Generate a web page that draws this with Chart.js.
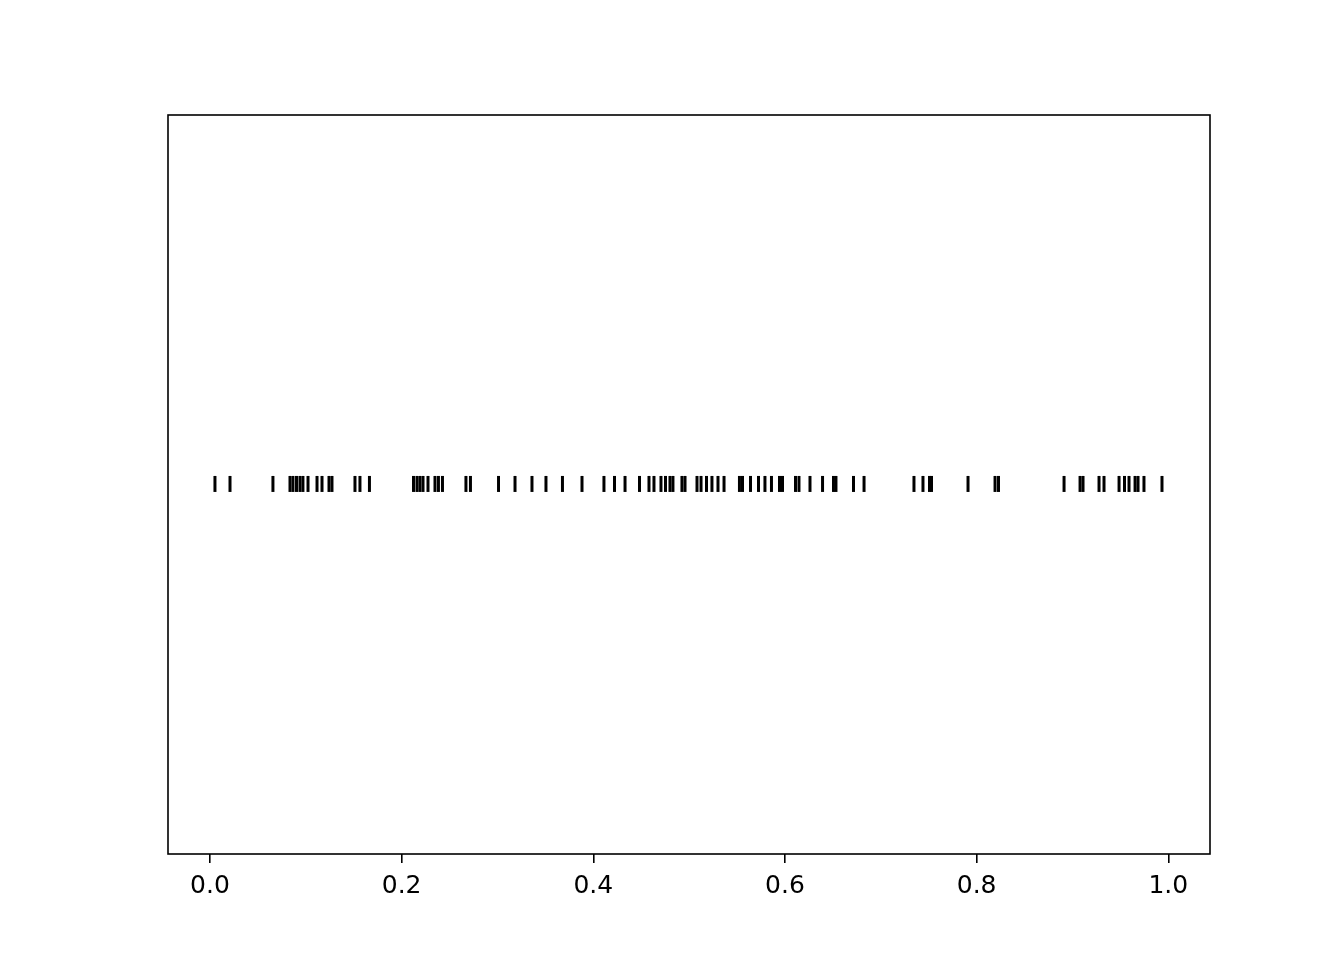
<!DOCTYPE html>
<html>
<head>
<meta charset="utf-8">
<script src="https://cdn.jsdelivr.net/npm/chart.js@4/dist/chart.umd.min.js"></script>
<style>
  body { margin: 0; background: #ffffff; }
  #wrap { width: 1344px; height: 960px; }
</style>
</head>
<body>
<div id="wrap"><canvas id="myChart" width="1344" height="960"></canvas></div>
<script>
/* event positions */
var eventPositions = [
  0.0052, 0.0209, 0.0657, 0.0835, 0.0866, 0.0903, 0.0939, 0.0970, 0.1023, 0.1117,
  0.1169, 0.1242, 0.1273, 0.1513, 0.1565, 0.1664, 0.2124, 0.2160, 0.2191, 0.2223,
  0.2275, 0.2348, 0.2384, 0.2426, 0.2671, 0.2718, 0.3011, 0.3183, 0.3360, 0.3506,
  0.3678, 0.3882, 0.4111, 0.4221, 0.4331, 0.4482, 0.4581, 0.4633, 0.4706, 0.4753,
  0.4800, 0.4831, 0.4925, 0.4957, 0.5082, 0.5124, 0.5181, 0.5238, 0.5301, 0.5364,
  0.5525, 0.5557, 0.5640, 0.5724, 0.5791, 0.5859, 0.5943, 0.5974, 0.6110, 0.6146,
  0.6261, 0.6392, 0.6506, 0.6532, 0.6715, 0.6825, 0.7346, 0.7440, 0.7508, 0.7529,
  0.7910, 0.8192, 0.8228, 0.8912, 0.9079, 0.9110, 0.9277, 0.9329, 0.9486, 0.9543,
  0.9590, 0.9653, 0.9684, 0.9746, 0.9934
];
var lineOffset = 1;
var xTicks = [0.0, 0.2, 0.4, 0.6, 0.8, 1.0];
var xRange = [-0.0438, 1.0435];

/* draws the black box round the plot area */
var frameBox = {
  id: 'frameBox',
  afterDraw: function(chart) {
    var a = chart.chartArea;
    var ctx = chart.ctx;
    ctx.save();
    ctx.strokeStyle = '#000000';
    ctx.lineWidth = 1.6;
    ctx.strokeRect(a.left, a.top, a.right - a.left, a.bottom - a.top);
    ctx.restore();
  }
};

var points = eventPositions.map(function(v) {
  return { x: v, y: lineOffset };
});

var config = {
  type: 'scatter',
  data: {
    datasets: [{
      data: points,
      pointStyle: 'line',
      rotation: 90,
      radius: 8,
      hoverRadius: 8,
      borderColor: '#000000',
      backgroundColor: '#000000',
      borderWidth: 3,
      hoverBorderWidth: 3
    }]
  },
  options: {
    responsive: false,
    animation: false,
    layout: { padding: { left: 168, right: 134, top: 115, bottom: 0 } },
    plugins: {
      legend: { display: false },
      tooltip: { enabled: false }
    },
    scales: {
      x: {
        type: 'linear',
        min: xRange[0],
        max: xRange[1],
        afterBuildTicks: function(scale) {
          scale.ticks = xTicks.map(function(v) { return { value: v }; });
        },
        afterFit: function(scale) { scale.height = 106; },
        grid: {
          drawOnChartArea: false,
          drawTicks: true,
          tickLength: 9,
          color: '#000000',
          lineWidth: 1.6
        },
        border: { display: false },
        ticks: {
          padding: 8,
          color: '#000000',
          font: { family: 'DejaVu Sans', size: 25 },
          maxRotation: 0,
          autoSkip: false,
          callback: function(v) { return Number(v).toFixed(1); }
        }
      },
      y: {
        display: false,
        min: 0.4985,
        max: 1.5
      }
    }
  },
  plugins: [frameBox]
};

window.onload = function() {
  var ctx = document.getElementById('myChart').getContext('2d');
  window.rugChart = new Chart(ctx, config);
};
</script>
</body>
</html>
